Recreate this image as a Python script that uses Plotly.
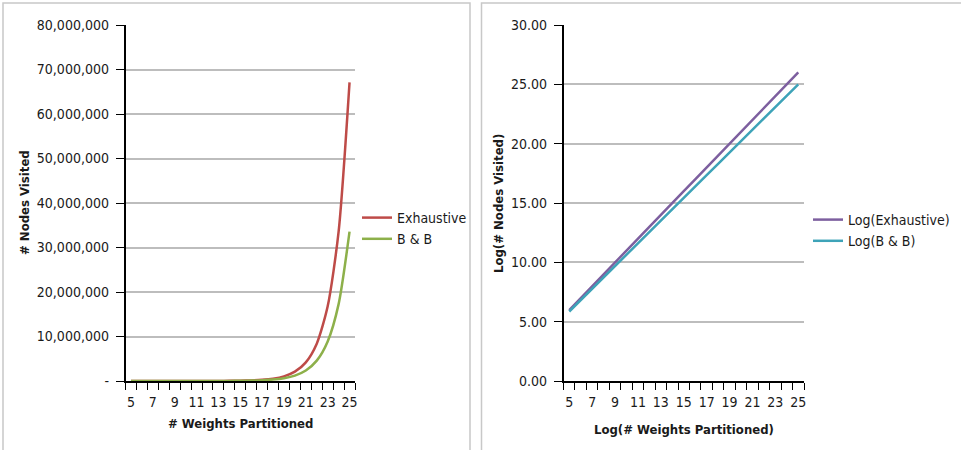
import numpy as np
import plotly.graph_objects as go

# Problem size (number of weights partitioned)
weights = list(range(5, 26))

# Nodes visited by each search strategy
exhaustive = [63, 127, 255, 511, 1023, 2047, 4095, 8191, 16383, 32767, 65535,
              131071, 262143, 524287, 1048575, 2097151, 4194303, 8388607,
              16777215, 33554431, 67108863]
branch_bound = [58, 112, 218, 422, 820, 1593, 3093, 6007, 11666, 22654, 43993,
                85433, 165912, 322199, 625749, 1214990, 2359500, 4581860,
                8897800, 17278900, 33554432]

left_yticks = [0, 10000000, 20000000, 30000000, 40000000, 50000000,
               60000000, 70000000, 80000000]
left_yticktext = [f"{v:,}" if v else "-" for v in left_yticks]
xtick_labels = list(range(5, 26, 2))

W, H = 961, 450
FONT = "DejaVu Sans Condensed, Liberation Sans Narrow, Arial Narrow, sans-serif"
TXT = "#1a1a1a"
GRID = "#bdbdbd"
FS = 14
TITLE_FS = 13


def px(x):
    return x / W


def py(y):
    return 1 - y / H


fig = go.Figure()

fig.add_trace(go.Scatter(x=weights, y=exhaustive, name="Exhaustive",
                         mode="lines", line=dict(color="#BE4B48", width=2.5,
                                                 shape="spline", smoothing=0.7),
                         xaxis="x", yaxis="y", legend="legend"))
fig.add_trace(go.Scatter(x=weights, y=branch_bound, name="B & B",
                         mode="lines", line=dict(color="#8DB04A", width=2.5,
                                                 shape="spline", smoothing=0.7),
                         xaxis="x", yaxis="y", legend="legend"))

fig.add_trace(go.Scatter(x=weights, y=np.log2(exhaustive), name="Log(Exhaustive)",
                         mode="lines", line=dict(color="#7D5F9F", width=2.5),
                         xaxis="x2", yaxis="y2", legend="legend2"))
fig.add_trace(go.Scatter(x=weights, y=np.log2(branch_bound), name="Log(B & B)",
                         mode="lines", line=dict(color="#3EA3B8", width=2.5),
                         xaxis="x2", yaxis="y2", legend="legend2"))

xaxis_common = dict(
    range=[4.5, 25.5], tickvals=xtick_labels, ticks="outside", ticklen=7,
    tickcolor="rgba(0,0,0,0)", showgrid=False, zeroline=False,
    showline=True, linecolor="black", linewidth=1.5,
    tickfont=dict(family=FONT, size=FS, color=TXT),
    minor=dict(tick0=4.5, dtick=1, ticks="outside", ticklen=7,
               tickcolor="black", tickwidth=1.2, showgrid=False),
    automargin=False, fixedrange=True,
)

yaxis_common = dict(
    ticks="outside", ticklen=8, tickcolor="black", tickwidth=1.2,
    showline=True, linecolor="black", linewidth=1.5,
    showgrid=True, gridcolor=GRID, gridwidth=1.5, zeroline=False,
    tickfont=dict(family=FONT, size=FS, color=TXT),
    ticklabelstandoff=4, automargin=False, fixedrange=True,
)

fig.update_layout(
    width=W, height=H, autosize=False,
    margin=dict(l=0, r=0, t=0, b=0, pad=0, autoexpand=False),
    paper_bgcolor="white", plot_bgcolor="white",
    xaxis=dict(domain=[px(125.5), px(355)], anchor="y", **xaxis_common),
    yaxis=dict(domain=[py(381), py(25)], anchor="x", range=[0, 80000000],
               tickvals=left_yticks, ticktext=left_yticktext, **yaxis_common),
    xaxis2=dict(domain=[px(563.5), px(804)], anchor="y2", **xaxis_common),
    yaxis2=dict(domain=[py(381), py(25)], anchor="x2", range=[0, 30],
                dtick=5, tick0=0, tickformat=".2f", **yaxis_common),
    legend=dict(x=px(357), y=py(202), xanchor="left", yanchor="top",
                font=dict(family=FONT, size=FS, color=TXT),
                bgcolor="rgba(0,0,0,0)", tracegroupgap=0, itemwidth=30),
    legend2=dict(x=px(808), y=py(204), xanchor="left", yanchor="top",
                 font=dict(family=FONT, size=FS, color=TXT),
                 bgcolor="rgba(0,0,0,0)", tracegroupgap=0, itemwidth=30),
    showlegend=True,
)

# Axis titles
titles = [
    dict(text="<b># Weights Partitioned</b>", x=px(240), y=py(423), textangle=0),
    dict(text="<b># Nodes Visited</b>", x=px(24), y=py(203), textangle=-90),
    dict(text="<b>Log(# Weights Partitioned)</b>", x=px(684), y=py(429), textangle=0),
    dict(text="<b>Log(# Nodes Visited)</b>", x=px(498), y=py(203), textangle=-90),
]
for t in titles:
    fig.add_annotation(text=t["text"], x=t["x"], y=t["y"], xref="paper",
                       yref="paper", showarrow=False, textangle=t["textangle"],
                       xanchor="center", yanchor="middle",
                       font=dict(family=FONT, size=TITLE_FS, color=TXT))

# Panel frames
frame = dict(color="#c8c8c8", width=1.5)
fig.add_shape(type="rect", xref="paper", yref="paper",
              x0=px(3), x1=px(470), y0=py(460), y1=py(3), line=frame)
fig.add_shape(type="rect", xref="paper", yref="paper",
              x0=px(481.5), x1=px(975), y0=py(460), y1=py(3), line=frame)

fig.write_html("out.html")
